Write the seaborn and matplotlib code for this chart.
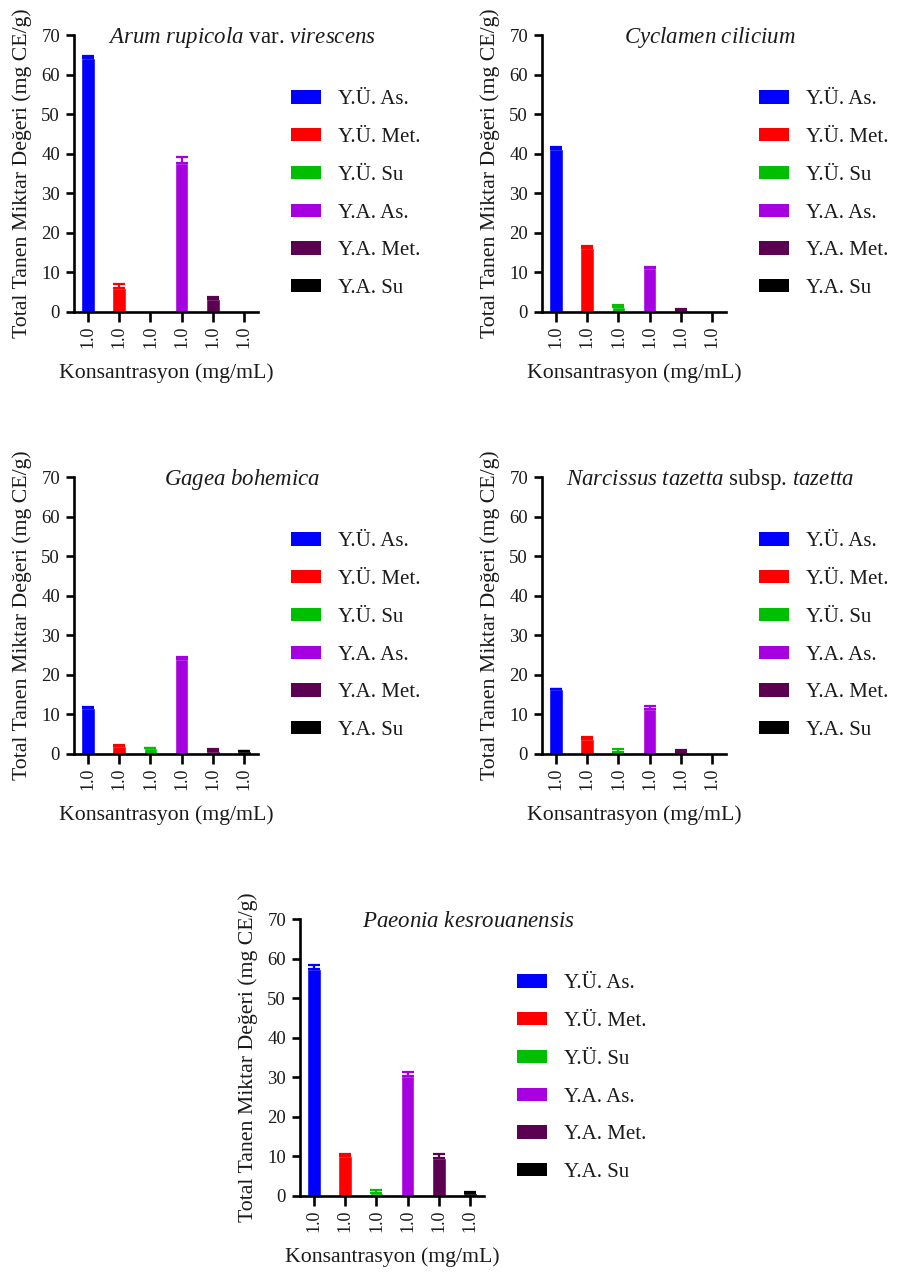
import numpy as np
import pandas as pd
import matplotlib
matplotlib.use("Agg")
import matplotlib.pyplot as plt
from matplotlib.patches import Patch
import seaborn as sns

# Extract groups (legend entries), bar colours and x tick labels
extracts = ["Y.Ü. As.", "Y.Ü. Met.", "Y.Ü. Su", "Y.A. As.", "Y.A. Met.", "Y.A. Su"]
colors = ["#0000FF", "#FF0000", "#00BF00", "#A600E0", "#5C0052", "#000000"]
conc_labels = ["1.0", "1.0", "1.0", "1.0", "1.0", "1.0"]

# Total tannin content (mg CE/g) and standard deviations per species
arum_mean = [64.3, 6.1, 0.2, 37.6, 3.3, 0.0]
arum_err = [0.5, 1.1, 0.0, 1.5, 0.6, 0.0]

cyclamen_mean = [41.1, 16.2, 1.35, 11.1, 0.5, 0.2]
cyclamen_err = [0.7, 0.4, 0.4, 0.2, 0.2, 0.0]

gagea_mean = [11.5, 2.1, 1.5, 23.95, 0.85, 0.7]
gagea_err = [0.3, 0.2, 0.1, 0.5, 0.35, 0.15]

narcissus_mean = [16.4, 3.9, 0.6, 11.4, 0.5, 0.1]
narcissus_err = [0.1, 0.4, 0.65, 0.7, 0.4, 0.0]

paeonia_mean = [57.35, 10.1, 0.85, 30.3, 9.7, 0.85]
paeonia_err = [1.0, 0.4, 0.65, 1.0, 0.8, 0.25]

titles = [
    r"$\it{Arum\ rupicola}$ var. $\it{virescens}$",
    r"$\it{Cyclamen\ cilicium}$",
    r"$\it{Gagea\ bohemica}$",
    r"$\it{Narcissus\ tazetta}$ subsp. $\it{tazetta}$",
    r"$\it{Paeonia\ kesrouanensis}$",
]
means = [arum_mean, cyclamen_mean, gagea_mean, narcissus_mean, paeonia_mean]
errs = [arum_err, cyclamen_err, gagea_err, narcissus_err, paeonia_err]

sns.set_style("ticks")
plt.rcParams["font.family"] = ["Liberation Serif", "DejaVu Serif"]
plt.rcParams["mathtext.fontset"] = "custom"
plt.rcParams["mathtext.rm"] = "Liberation Serif"
plt.rcParams["mathtext.it"] = "Liberation Serif:italic"
plt.rcParams["mathtext.bf"] = "Liberation Serif:bold"

W, H = 897, 1272
fig = plt.figure(figsize=(W / 100, H / 100), dpi=100)

# axes boxes in pixels: left, top
boxes = [(74, 35), (542, 35), (74, 477), (542, 477), (300, 919)]
ax_w, ax_h = 184, 277

for (left, top), title, mean, err in zip(boxes, titles, means, errs):
    ax = fig.add_axes([left / W, 1 - (top + ax_h) / H, ax_w / W, ax_h / H])
    df = pd.DataFrame({"extract": extracts, "value": mean})
    sns.barplot(data=df, x="extract", y="value", hue="extract",
                palette=colors, order=extracts, hue_order=extracts,
                width=0.44, saturation=1, errorbar=None, legend=False, ax=ax)
    for i, (m, e, c) in enumerate(zip(mean, err, colors)):
        if e > 0:
            ax.errorbar(i, m, yerr=[[0], [e]], fmt="none", ecolor=c,
                        elinewidth=1.6, capsize=4, capthick=1.6, zorder=3)

    ax.set_xlim(-0.45, 5.45)
    ax.set_ylim(0, 70)
    ax.set_yticks(np.arange(0, 71, 10))
    ax.set_xticks(range(len(extracts)))
    ax.set_xticklabels(conc_labels, rotation=90)
    ax.tick_params(axis="y", length=6, width=1.9, pad=4, labelsize=13.5,
                   color="black", labelcolor="#1a1a1a")
    ax.tick_params(axis="x", length=7, width=1.9, pad=3, labelsize=13,
                   color="black", labelcolor="#1a1a1a")
    for side in ("left", "bottom"):
        ax.spines[side].set_linewidth(1.9)
        ax.spines[side].set_color("black")
    sns.despine(ax=ax)

    ax.set_xlabel("Konsantrasyon (mg/mL)", fontsize=15.7, labelpad=11,
                  color="#1a1a1a")
    ax.set_ylabel("Total Tanen Miktar Değeri (mg CE/g)", fontsize=15.7,
                  labelpad=7, color="#1a1a1a")
    ax.text(0.913, 0.99, title, transform=ax.transAxes, ha="center",
            va="center", fontsize=16.5, color="#1a1a1a")

    handles = [Patch(facecolor=c, edgecolor="none") for c in colors]
    ax.legend(handles, extracts, loc="upper left",
              bbox_to_anchor=(1.18, 0.80), frameon=False, fontsize=15,
              handlelength=1.45, handleheight=0.6, handletextpad=0.8,
              labelspacing=0.9, borderpad=0, borderaxespad=0,
              labelcolor="#1a1a1a")

fig.savefig("out.png", dpi=100, facecolor="white")
